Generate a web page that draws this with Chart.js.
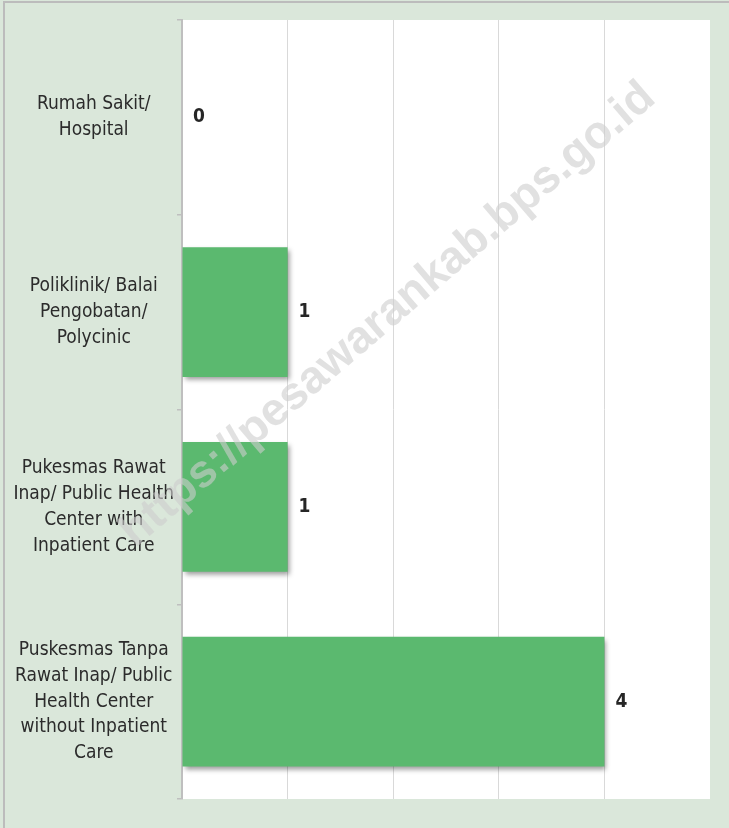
<!DOCTYPE html>
<html>
<head>
<meta charset="utf-8">
<script src="https://cdn.jsdelivr.net/npm/chart.js@4.4.1/dist/chart.umd.min.js"></script>
<style>
    html, body { margin: 0; padding: 0; background: #dae7da; overflow: hidden; }
    #frame {
        position: absolute; left: 3px; top: 1px; width: 800px; height: 900px;
        border-left: 2px solid #bcbcbc; border-top: 2px solid #bcbcbc;
    }
    #chart-wrap { position: absolute; left: 0; top: 0; width: 729px; height: 828px; }
</style>
</head>
<body>
<div id="frame"></div>
<div id="chart-wrap"><canvas id="facility-chart" width="729" height="828"></canvas></div>
<script>
const facilityLabels = [
    ['Rumah Sakit/', 'Hospital'],
    ['Poliklinik/ Balai', 'Pengobatan/', 'Polycinic'],
    ['Pukesmas Rawat', 'Inap/ Public Health', 'Center with', 'Inpatient Care'],
    ['Puskesmas Tanpa', 'Rawat Inap/ Public', 'Health Center', 'without Inpatient', 'Care']
];
const facilityCounts = [0, 1, 1, 4];
const axisMax = 5;

const labelFont = "'Liberation Sans Narrow', 'DejaVu Sans Condensed', sans-serif";
const chartEl = document.getElementById('facility-chart');

// white plot area, the rest of the canvas stays transparent
const plotBackground = {
    id: 'plotBackground',
    beforeDraw(chart) {
        const { ctx, chartArea } = chart;
        ctx.save();
        ctx.fillStyle = '#ffffff';
        ctx.fillRect(chartArea.left, chartArea.top, chartArea.right - chartArea.left, chartArea.bottom - chartArea.top);
        ctx.restore();
    }
};

// soft drop shadow under the bars, then value labels
const barExtras = {
    id: 'barExtras',
    beforeDatasetsDraw(chart) {
        const ctx = chart.ctx;
        ctx.save();
        ctx.shadowColor = 'rgba(0, 0, 0, 0.4)';
        ctx.shadowBlur = 5;
        ctx.shadowOffsetX = 2;
        ctx.shadowOffsetY = 3;
    },
    afterDatasetsDraw(chart) {
        const ctx = chart.ctx;
        ctx.restore();
        const meta = chart.getDatasetMeta(0);
        ctx.save();
        ctx.font = "bold 19px " + labelFont;
        ctx.fillStyle = '#262626';
        ctx.textAlign = 'left';
        ctx.textBaseline = 'middle';
        meta.data.forEach((bar, i) => {
            ctx.fillText(String(facilityCounts[i]), bar.x + 11, bar.y);
        });
        ctx.restore();
    }
};

const watermark = {
    id: 'watermark',
    afterDraw(chart) {
        const ctx = chart.ctx;
        ctx.save();
        ctx.translate(388, 315);
        ctx.rotate(-40.6 * Math.PI / 180);
        ctx.font = "bold 46px 'Liberation Sans', Arial, sans-serif";
        ctx.fillStyle = 'rgba(205, 205, 205, 0.6)';
        ctx.textAlign = 'center';
        ctx.textBaseline = 'middle';
        ctx.fillText('https://pesawarankab.bps.go.id', 0, 0);
        ctx.restore();
    }
};

const facilityChart = new Chart(chartEl, {
    type: 'bar',
    data: {
        labels: facilityLabels,
        datasets: [{
            data: facilityCounts,
            backgroundColor: '#5bb96f',
            borderWidth: 0,
            categoryPercentage: 1,
            barPercentage: 0.667
        }]
    },
    options: {
        indexAxis: 'y',
        responsive: false,
        animation: false,
        layout: { padding: { left: 0, top: 20, right: 19, bottom: 29 } },
        plugins: {
            legend: { display: false },
            tooltip: { enabled: false }
        },
        scales: {
            x: {
                min: 0,
                max: axisMax,
                ticks: { display: false, stepSize: 1 },
                border: { display: false },
                grid: {
                    drawTicks: false,
                    lineWidth: 1,
                    color: ctx => (ctx.tick && (ctx.tick.value === 0 || ctx.tick.value === axisMax)) ? 'rgba(0,0,0,0)' : '#d9d9d9'
                },
                afterFit: s => { s.height = 0; }
            },
            y: {
                ticks: {
                    crossAlign: 'center',
                    padding: 3,
                    color: '#2b2b2b',
                    font: { family: labelFont, size: 19, lineHeight: 1.36 }
                },
                border: { display: true, color: '#bfbfbf', width: 2 },
                grid: {
                    offset: true,
                    drawOnChartArea: false,
                    tickLength: 5,
                    color: '#bfbfbf',
                    lineWidth: 1.5
                },
                afterFit: s => {
                    s.width = 182;
                    s.paddingTop = 0;
                    s.paddingBottom = 0;
                }
            }
        }
    },
    plugins: [plotBackground, barExtras, watermark]
});
</script>
</body>
</html>
